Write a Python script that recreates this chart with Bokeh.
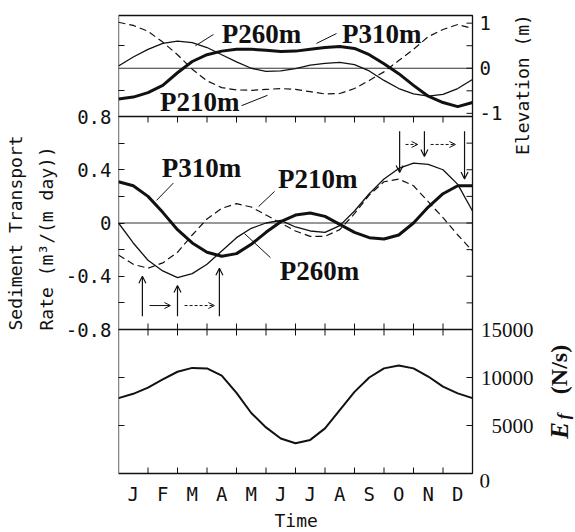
from bokeh.plotting import figure
from bokeh.models import (Range1d, FixedTicker, Label, LabelSet, Title,
                          ColumnDataSource, Arrow, OpenHead)
from bokeh.core.properties import value
from bokeh.embed import file_html
from bokeh.resources import INLINE

# ---------------- data ----------------
months = [0, 0.5, 1, 1.5, 2, 2.5, 3, 3.5, 4, 4.5, 5, 5.5, 6, 6.5, 7, 7.5,
          8, 8.5, 9, 9.5, 10, 10.5, 11, 11.5, 12]

elev_p210 = [1.02, 0.95, 0.82, 0.58, 0.30, -0.02, -0.28, -0.43, -0.48, -0.49, -0.47, -0.45,
             -0.47, -0.52, -0.57, -0.56, -0.45, -0.27, -0.08, 0.17, 0.42, 0.70, 0.86, 0.97, 0.88]
elev_p260 = [0.05, 0.25, 0.42, 0.55, 0.60, 0.57, 0.46, 0.30, 0.14, 0.00, -0.07, -0.06,
             -0.01, 0.07, 0.11, 0.13, 0.08, -0.06, -0.27, -0.45, -0.57, -0.62, -0.58, -0.45, -0.25]
elev_p310 = [-0.68, -0.64, -0.54, -0.38, -0.10, 0.15, 0.30, 0.38, 0.42, 0.42, 0.40, 0.37,
             0.38, 0.42, 0.46, 0.48, 0.44, 0.30, 0.10, -0.12, -0.38, -0.62, -0.76, -0.85, -0.76]

rate_p210 = [-0.24, -0.31, -0.34, -0.30, -0.22, -0.09, 0.03, 0.11, 0.145, 0.12, 0.06, 0.00,
             -0.06, -0.10, -0.10, -0.05, 0.07, 0.21, 0.31, 0.33, 0.28, 0.16, 0.04, -0.09, -0.21]
rate_p260 = [0.00, -0.15, -0.28, -0.36, -0.41, -0.38, -0.31, -0.21, -0.11, -0.04, 0.00, 0.02,
             -0.03, -0.06, -0.07, -0.02, 0.09, 0.22, 0.33, 0.41, 0.45, 0.44, 0.40, 0.29, 0.09]
rate_p310 = [0.31, 0.28, 0.20, 0.08, -0.05, -0.15, -0.22, -0.25, -0.23, -0.16, -0.07, 0.01,
             0.06, 0.075, 0.05, -0.01, -0.07, -0.11, -0.12, -0.09, 0.00, 0.12, 0.22, 0.28, 0.28]

ef_flux = [7850, 8300, 8950, 9800, 10600, 11000, 10950, 10200, 8400, 6300, 4800, 3650,
           3150, 3500, 4700, 6600, 8500, 10000, 10950, 11250, 10950, 10100, 9050, 8350, 7850]

month_labels = ["J", "F", "M", "A", "M", "J", "J", "A", "S", "O", "N", "D"]
month_centers = [0.5, 1.5, 2.5, 3.5, 4.5, 5.5, 6.5, 7.5, 8.5, 9.5, 10.5, 11.5]
month_edges = [1, 2, 3, 4, 5, 6, 7, 8, 9, 10, 11]

rate_ticks = [-0.8, -0.6, -0.4, -0.2, 0, 0.2, 0.4, 0.6, 0.8]
rate_tick_labels = ["-0.8", "", "-0.4", "", "0", "", "0.4", "", "0.8"]
elev_ticks = [-1, -0.5, 0, 0.5, 1]
elev_label_ticks = [-1, 0, 1]
elev_tick_labels = ["-1", "0", "1"]
elev_left_ticks = [-0.5, 0.5]
ef_label_ticks = [5000, 10000, 15000]
ef_tick_labels = ["5000", "10000", "15000"]
ef_zero_label = "0"
ef_side_ticks = [5000, 10000]

# phase-shift arrows (month, tip value) in the transport panel
trough_arrow_x = [0.81, 2.0, 3.42]
trough_arrow_tip = [-0.40, -0.47, -0.34]
crest_arrow_x = [9.53, 10.37, 11.73]
crest_arrow_tip = [0.38, 0.50, 0.33]

# ---------------- layout helpers (pixel sizes of the stacked panels) ----------------
PAD_TOP, PANEL_TOP, PANEL_MID, PANEL_BOT, PAD_BOT = 15, 101, 213, 144, 14
TOTAL = PAD_TOP + PANEL_TOP + PANEL_MID + PANEL_BOT + PAD_BOT
BOX_W, RIGHT_PAD = 354, 105
X_END = 12 * (BOX_W + RIGHT_PAD) / BOX_W


def full_range(lo, hi, below_px, h_px):
    s = (hi - lo) / h_px
    return (lo - below_px * s, hi + (TOTAL - below_px - h_px) * s)


elev_full = full_range(-1.07, 1.17, PAD_BOT + PANEL_BOT + PANEL_MID, PANEL_TOP)
rate_full = full_range(-0.8, 0.8, PAD_BOT + PANEL_BOT, PANEL_MID)
ef_full = full_range(0, 15000, PAD_BOT, PANEL_BOT)


def to_rate(v, rng):
    return rate_full[0] + (v - rng[0]) / (rng[1] - rng[0]) * (rate_full[1] - rate_full[0])


MONO = "DejaVu Sans Mono"
SERIF = "Liberation Serif"
INK = "#111111"
TX = 6 / 29.5                      # 6 px tick, in months
TY = 6 / PANEL_MID * 1.6           # 6 px tick, in transport units

p = figure(frame_width=BOX_W + RIGHT_PAD, frame_height=TOTAL, x_range=Range1d(0, X_END),
           y_range=Range1d(*rate_full), output_backend="svg", toolbar_location=None,
           min_border_left=116, min_border_right=0, min_border_top=0, min_border_bottom=0)
p.extra_y_ranges = {"elev": Range1d(*elev_full), "ef": Range1d(*ef_full)}
p.xgrid.visible = False
p.ygrid.visible = False
p.outline_line_color = None
p.background_fill_color = "white"
p.border_fill_color = "white"

# ---------------- left axis (transport) ----------------
left_ticks = list(rate_ticks) + [to_rate(v, elev_full) for v in elev_left_ticks] + \
    [to_rate(v, ef_full) for v in ef_side_ticks]
left_over = {t: "" for t in left_ticks}
for t, lab in zip(rate_ticks, rate_tick_labels):
    left_over[t] = lab
yax = p.yaxis[0]
yax.ticker = FixedTicker(ticks=left_ticks)
yax.major_label_overrides = left_over
yax.axis_line_color = None
yax.major_tick_in = 6
yax.major_tick_out = 0
yax.major_tick_line_color = INK
yax.minor_tick_line_color = None
yax.major_label_text_font = MONO
yax.major_label_text_font_size = "19px"
yax.major_label_text_color = INK
yax.major_label_standoff = 7

# ---------------- bottom axis (month letters) ----------------
xax = p.xaxis[0]
xax.ticker = FixedTicker(ticks=month_centers)
xax.major_label_overrides = dict(zip(month_centers, month_labels))
xax.axis_line_color = None
xax.major_tick_in = 0
xax.major_tick_out = 0
xax.minor_tick_line_color = None
xax.major_label_text_font = MONO
xax.major_label_text_font_size = "19px"
xax.major_label_text_color = INK
xax.major_label_standoff = -5

p.add_layout(Title(text="Time", align="left", offset=156, standoff=0, text_font=MONO,
                   text_font_size="18px", text_font_style="normal", text_color=INK), "below")
p.add_layout(Title(text="Rate  (m³/(m day))", align="left", offset=157, standoff=12,
                   text_font=MONO, text_font_size="18px", text_font_style="normal",
                   text_color=INK), "left")
p.add_layout(Title(text="Sediment Transport", align="left", offset=157, standoff=4,
                   text_font=MONO, text_font_size="18px", text_font_style="normal",
                   text_color=INK), "left")

# ---------------- plot box, separators, zero lines ----------------
box_top = to_rate(1.17, elev_full)
box_bot = to_rate(0, ef_full)
p.quad(left=[0], right=[12], top=[box_top], bottom=[box_bot], fill_color=None,
       line_color=INK, line_width=1.3)
p.segment(x0=[0, 0], x1=[12, 12], y0=[0.8, -0.8], y1=[0.8, -0.8], line_color=INK, line_width=1.3)
p.segment(x0=[0], x1=[12], y0=[0], y1=[0], line_color="#333333", line_width=1.1)
p.segment(x0=[0], x1=[12], y0=[0], y1=[0], y_range_name="elev", line_color="#333333",
          line_width=1.1)

n = len(month_edges)
p.segment(x0=month_edges, x1=month_edges, y0=[0.8] * n, y1=[0.8 - TY] * n,
          line_color=INK, line_width=1)
p.segment(x0=month_edges, x1=month_edges, y0=[-0.8 + TY] * n, y1=[-0.8 - TY] * n,
          line_color=INK, line_width=1)
p.segment(x0=month_edges, x1=month_edges, y0=[box_bot] * n, y1=[box_bot + TY] * n,
          line_color=INK, line_width=1)

# ---------------- right-hand ticks (drawn on the box edge) ----------------
right_rate = [to_rate(v, elev_full) for v in elev_ticks] + list(rate_ticks) + \
    [to_rate(v, ef_full) for v in ef_side_ticks]
p.segment(x0=[12] * len(right_rate), x1=[12 - TX] * len(right_rate), y0=right_rate,
          y1=right_rate, line_color=INK, line_width=1)

# ---------------- curves ----------------
p.line(months, elev_p210, y_range_name="elev", line_color=INK, line_width=1.2,
       line_dash="7 4", line_join="round")
p.line(months, elev_p260, y_range_name="elev", line_color=INK, line_width=1.3, line_join="round")
p.line(months, elev_p310, y_range_name="elev", line_color=INK, line_width=3, line_join="round")

p.line(months, rate_p210, line_color=INK, line_width=1.2, line_dash="7 4", line_join="round")
p.line(months, rate_p260, line_color=INK, line_width=1.3, line_join="round")
p.line(months, rate_p310, line_color=INK, line_width=3, line_join="round")

p.line(months, ef_flux, y_range_name="ef", line_color=INK, line_width=2, line_join="round")

# ---------------- arrows ----------------
tr = ColumnDataSource(dict(x=trough_arrow_x, y0=[-0.7] * 3, y1=trough_arrow_tip))
p.add_layout(Arrow(source=tr, x_start="x", y_start="y0", x_end="x", y_end="y1",
                   line_color=INK, line_width=1.2,
                   end=OpenHead(size=7, line_width=1.2, line_color=INK)))
cr = ColumnDataSource(dict(x=crest_arrow_x, y0=[0.69] * 3, y1=crest_arrow_tip))
p.add_layout(Arrow(source=cr, x_start="x", y_start="y0", x_end="x", y_end="y1",
                   line_color=INK, line_width=1.2,
                   end=OpenHead(size=7, line_width=1.2, line_color=INK)))
solid_h = ColumnDataSource(dict(x0=[1.05], x1=[1.76], y=[-0.62]))
p.add_layout(Arrow(source=solid_h, x_start="x0", y_start="y", x_end="x1", y_end="y",
                   line_color=INK, line_width=1,
                   end=OpenHead(size=6, line_width=1, line_color=INK)))
dash_h = ColumnDataSource(dict(x0=[2.24, 9.73, 10.58], x1=[3.25, 10.14, 11.42],
                               y=[-0.62, 0.59, 0.59]))
p.add_layout(Arrow(source=dash_h, x_start="x0", y_start="y", x_end="x1", y_end="y",
                   line_color=INK, line_width=1, line_dash="3 2",
                   end=OpenHead(size=6, line_width=1, line_color=INK)))

# ---------------- curve labels and leaders ----------------
name_labels = [
    ("P260m", 4.85, 0.77, "elev"), ("P310m", 8.92, 0.77, "elev"), ("P210m", 2.75, -0.74, "elev"),
    ("P310m", 2.81, 0.41, "default"), ("P210m", 6.75, 0.334, "default"),
    ("P260m", 6.81, -0.364, "default"),
]
for txt, x, y, rn in name_labels:
    p.add_layout(Label(x=x, y=y, y_range_name=rn, text=txt, text_font=SERIF,
                       text_font_style="bold", text_font_size="27px", text_color=INK,
                       text_align="center", text_baseline="middle"))

p.segment(x0=[2.61, 6.71, 4.17], y0=[0.50, 0.55, -0.83], x1=[3.22, 7.39, 5.05],
          y1=[0.75, 0.77, -0.60], y_range_name="elev", line_color=INK, line_width=1)
p.segment(x0=[1.29, 4.75, 5.15], y0=[0.17, 0.124, -0.26], x1=[1.86, 5.29, 4.27],
          y1=[0.30, 0.237, -0.079], line_color=INK, line_width=1)

# ---------------- right-hand tick labels ----------------
el_src = ColumnDataSource(dict(x=[12] * 3, y=elev_label_ticks, t=elev_tick_labels))
p.add_layout(LabelSet(source=el_src, x="x", y="y", text="t", y_range_name="elev",
                      x_offset=7, text_align="left", text_baseline="middle",
                      text_font=value(MONO), text_font_size="19px", text_color=INK))
ef_src = ColumnDataSource(dict(x=[12] * 3, y=ef_label_ticks, t=ef_tick_labels))
p.add_layout(LabelSet(source=ef_src, x="x", y="y", text="t", y_range_name="ef",
                      x_offset=61, text_align="right", text_baseline="middle",
                      text_font=value(SERIF), text_font_size="21px", text_color=INK))
p.add_layout(Label(x=12, y=0, y_range_name="ef", x_offset=7, y_offset=-7, text=ef_zero_label,
                   text_align="left", text_baseline="middle", text_font=SERIF,
                   text_font_size="21px", text_color=INK))

# ---------------- right-hand titles ----------------
p.add_layout(Label(x=12, y=-0.36, y_range_name="elev", x_offset=50, text="Elevation (m)",
                   angle=90, angle_units="deg", text_font=MONO, text_font_size="18px",
                   text_color=INK, text_align="center", text_baseline="middle"))
p.add_layout(Label(x=12, y=4480, y_range_name="ef", x_offset=87, text="E", angle=90,
                   angle_units="deg", text_font=SERIF, text_font_style="bold italic",
                   text_font_size="25px", text_color=INK, text_align="center",
                   text_baseline="middle"))
p.add_layout(Label(x=12, y=5950, y_range_name="ef", x_offset=91, text="f", angle=90,
                   angle_units="deg", text_font=SERIF, text_font_style="bold italic",
                   text_font_size="17px", text_color=INK, text_align="center",
                   text_baseline="middle"))
p.add_layout(Label(x=12, y=10830, y_range_name="ef", x_offset=86, text="(N/s)", angle=90,
                   angle_units="deg", text_font=SERIF, text_font_style="bold",
                   text_font_size="24px", text_color=INK, text_align="center",
                   text_baseline="middle"))

open("out.html", "w").write(file_html(p, INLINE))
